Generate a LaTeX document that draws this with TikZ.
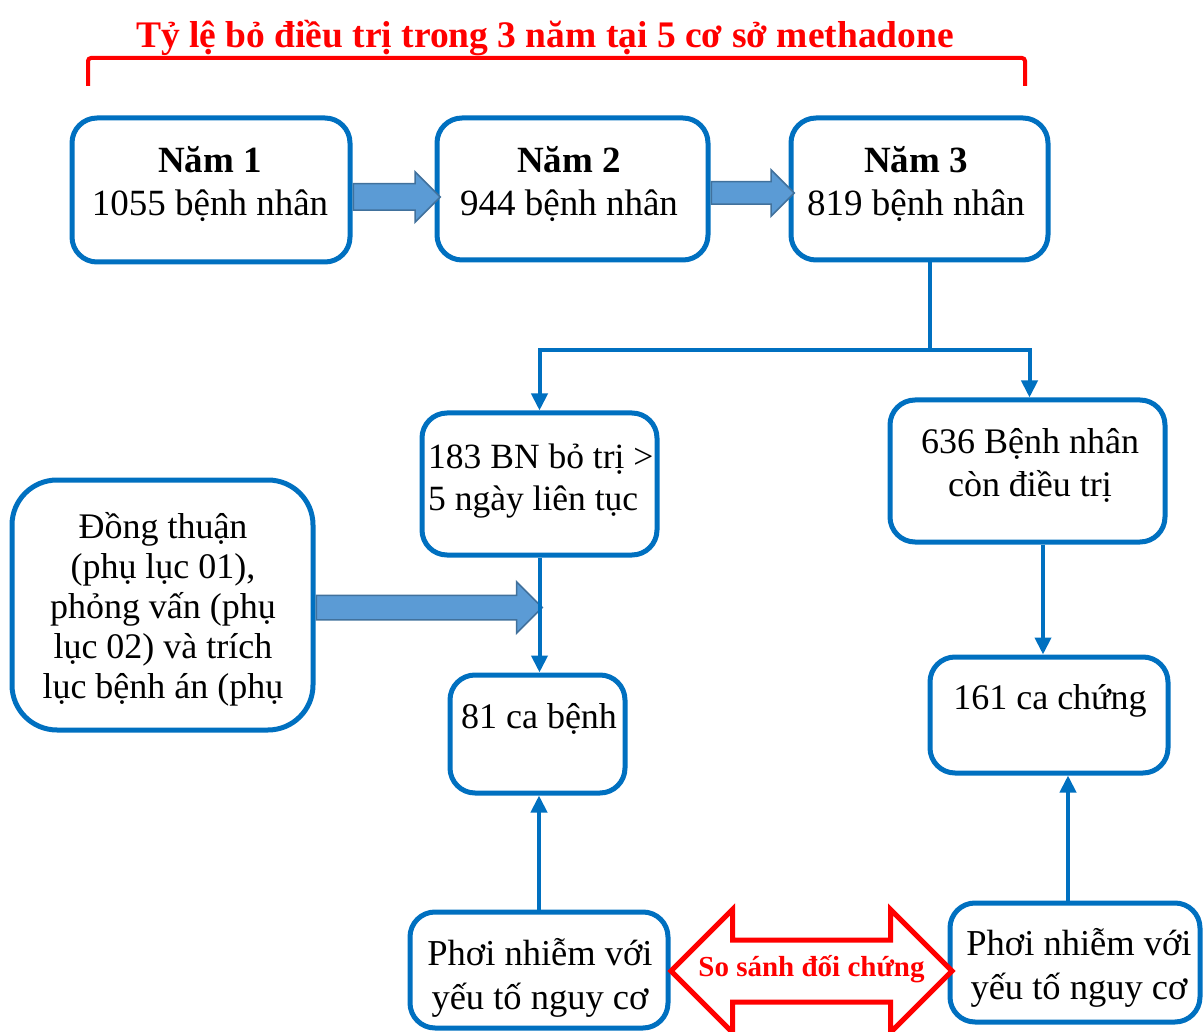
\documentclass[tikz,border=0pt]{standalone}
\usepackage{fontspec}
\setmainfont{Liberation Serif}
\usetikzlibrary{arrows.meta,shapes.arrows,calc}
\definecolor{boxblue}{HTML}{0070C0}
\definecolor{arrfill}{HTML}{5B9BD5}
\definecolor{arrline}{HTML}{41719C}
\definecolor{alert}{HTML}{FF0000}
\begin{document}
\begin{tikzpicture}[x=1pt,y=-1pt,
  box/.style={draw=boxblue,line width=5pt,rounded corners=25pt,fill=white,inner sep=0pt},
  txt/.style={font=\fontsize{36}{43}\selectfont,align=center,inner sep=0pt},
  link/.style={draw=boxblue,line width=4pt},
  tip/.style={-{Triangle[length=17pt,width=16pt]}},
  fat/.style={single arrow,fill=arrfill,draw=arrline,line width=1.5pt,
    inner xsep=0pt,anchor=tail},
]
\useasboundingbox (0,0) rectangle (1203,1032);

% heading with its bracket
\node[font=\bfseries\fontsize{37.5}{40}\selectfont,text=alert,anchor=base,inner sep=0pt]
  (title) at (545,48) {Tỷ lệ bỏ điều trị trong 3 năm tại 5 cơ sở methadone};
\draw[alert,line width=4pt,rounded corners=3pt] (88,86) -- (88,58) -- (1025,58) -- (1025,86);

% boxes
\node[box,minimum width=278pt,minimum height=144pt] (n1) at (211,190) {};
\node[box,minimum width=271pt,minimum height=142pt] (n2) at (572.5,189) {};
\node[box,minimum width=257pt,minimum height=142pt] (n3) at (919.5,189) {};
\node[box,minimum width=235pt,minimum height=142pt] (bo) at (539.5,484) {};
\node[box,minimum width=275pt,minimum height=142pt] (con) at (1027.5,471) {};
\node[box,rounded corners=45pt,minimum width=301pt,minimum height=250pt] (dt) at (162.5,605) {};
\node[box,minimum width=175pt,minimum height=118pt] (cb) at (537.5,734) {};
\node[box,minimum width=238pt,minimum height=116pt] (cc) at (1049,715) {};
\node[box,minimum width=258pt,minimum height=116pt] (pl) at (539,970) {};
\node[box,minimum width=250pt,minimum height=119pt] (pr) at (1075,962.5) {};

% box texts
\node[txt,font=\fontsize{37}{43}\selectfont] (t1) at (210,184.5) {\textbf{Năm 1}\\1055 bệnh nhân};
\node[txt,font=\fontsize{37}{43}\selectfont] (t2) at (569,184.5) {\textbf{Năm 2}\\944 bệnh nhân};
\node[txt,font=\fontsize{37}{43}\selectfont] (t3) at (916,184.5) {\textbf{Năm 3}\\819 bệnh nhân};
\node[txt,font=\fontsize{35.5}{42}\selectfont,align=left,anchor=west] (tbo) at (428,481) {183 BN bỏ trị >\\5 ngày liên tục};
\node[txt] (tcon) at (1030,465.5) {636 Bệnh nhân\\còn điều trị};
\node[txt,font=\fontsize{36}{40}\selectfont] (tdt) at (163,609)
  {Đồng thuận\\(phụ lục 01),\\phỏng vấn (phụ\\lục 02) và trích\\lục bệnh án (phụ};
\node[txt] (tcb) at (539,719) {81 ca bệnh};
\node[txt] (tcc) at (1050,701) {161 ca chứng};
\node[txt,font=\fontsize{36.5}{44}\selectfont] (tpl) at (540,978) {Phơi nhiễm với\\yếu tố nguy cơ};
\node[txt,font=\fontsize{36.5}{44}\selectfont] (tpr) at (1079,968) {Phơi nhiễm với\\yếu tố nguy cơ};

% block arrows between the yearly boxes and into the case box
\node[fat,inner ysep=12.5pt,single arrow head extend=12pt,minimum height=87pt]
  (a12) at ($(n1.east)+(0,7)$) {};
\node[fat,inner ysep=10.5pt,single arrow head extend=12pt,minimum height=83pt]
  (a23) at ($(n2.east)+(0,4)$) {};
\node[fat,inner ysep=11.5pt,single arrow head extend=13.5pt,minimum height=226pt]
  (adt) at ($(dt.east)+(0,2.5)$) {};

% split of year 3
\coordinate (j) at (930,350);
\draw[link] ($(n3.south)+(10.5,0)$) -- (j);
\draw[link,tip] (j) -| (bo.north);
\draw[link,tip] (j) -| ($(con.north)+(2,0)$);

% downward and upward links
\draw[link,tip] (bo.south) -- (bo.south |- cb.north);
\draw[link,tip] ($(con.south)+(15.5,0)$) -- ($(con.south |- cc.north)+(15.5,0)$);
\draw[link,tip] (pl.north) -- (pl.north |- cb.south);
\draw[link,tip] ($(pr.north)+(-7,0)$) -- ($(pr.north |- cc.south)+(-7,0)$);

% comparison double arrow
\node[double arrow,draw=alert,line width=5pt,fill=white,inner xsep=0pt,inner ysep=28.5pt,
  double arrow head extend=30.5pt,minimum height=281pt] (cmp) at (811.5,971) {};
\node[font=\bfseries\fontsize{29}{32}\selectfont,text=alert,inner sep=0pt]
  (tcmp) at (811.5,969) {So sánh đối chứng};
\end{tikzpicture}
\end{document}
